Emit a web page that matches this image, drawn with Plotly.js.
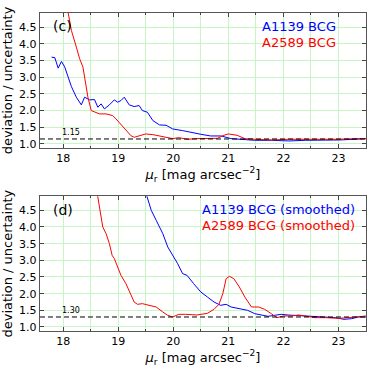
<!DOCTYPE html>
<html><head><meta charset="utf-8">
<script src="https://cdn.plot.ly/plotly-3.0.1.min.js"></script>
<style>html,body{margin:0;padding:0;background:#fff}#chart{width:374px;height:374px}</style>
</head><body><div id="chart"></div>
<script>
// Panel (c)
const cBlueX = [17.79,17.85,17.91,17.97,18.03,18.09,18.15,18.24,18.33,18.39,18.48,18.57,18.63,18.69,18.75,18.84,18.93,18.99,19.05,19.11,19.2,19.29,19.38,19.44,19.53,19.63,19.75,19.87,19.99,20.17,20.25,20.34,20.5,20.68,20.87,21.05,21.3,21.48,21.78,22.1,22.4,22.7,23.0,23.3,23.5];
const cBlueY = [3.6,3.58,3.27,3.47,3.3,3.0,2.72,2.4,2.17,2.4,2.32,2.33,2.1,2.2,2.05,2.17,2.32,2.25,2.3,2.4,2.17,2.12,2.15,2.0,1.95,1.7,1.57,1.56,1.45,1.4,1.37,1.33,1.29,1.24,1.24,1.16,1.12,1.11,1.11,1.09,1.11,1.11,1.12,1.14,1.16];
const cRedX = [18.05,18.15,18.24,18.3,18.36,18.41,18.45,18.51,18.57,18.66,18.78,18.9,18.96,19.05,19.14,19.23,19.29,19.38,19.5,19.63,19.75,19.87,19.99,20.1,20.25,20.43,20.62,20.8,20.92,21.0,21.16,21.3,21.48,21.78,22.1,22.4,22.7,23.0,23.3,23.5];
const cRedY = [5.3,4.4,3.9,3.55,3.3,2.8,2.4,2.0,1.95,1.9,1.9,1.85,1.75,1.58,1.4,1.25,1.2,1.25,1.3,1.28,1.24,1.22,1.16,1.19,1.14,1.16,1.16,1.17,1.26,1.3,1.26,1.16,1.14,1.12,1.14,1.14,1.12,1.14,1.16,1.16];
// Panel (d)
const dBlueX = [19.45,19.52,19.6,19.69,19.81,19.9,19.99,20.08,20.17,20.25,20.37,20.5,20.62,20.74,20.86,20.96,21.05,21.2,21.35,21.48,21.6,21.72,21.84,21.96,22.08,22.28,22.46,22.7,22.94,23.1,23.24,23.36,23.5];
const dBlueY = [5.3,4.92,4.5,4.2,3.8,3.4,3.15,2.9,2.6,2.55,2.3,2.05,1.9,1.75,1.65,1.68,1.6,1.55,1.5,1.4,1.35,1.32,1.35,1.38,1.36,1.34,1.31,1.3,1.28,1.23,1.25,1.3,1.3];
const dRedX = [18.6,18.67,18.72,18.78,18.84,18.89,18.93,18.99,19.05,19.14,19.23,19.29,19.35,19.44,19.56,19.69,19.81,19.9,19.99,20.1,20.22,20.43,20.62,20.74,20.83,20.9,20.96,21.02,21.1,21.2,21.3,21.42,21.55,21.66,21.78,21.88,22.0,22.15,22.28,22.4,22.58,22.77,23.0,23.18,23.36,23.5];
const dRedY = [5.2,4.5,4.0,3.8,3.5,3.15,3.05,2.8,2.55,2.3,2.0,1.75,1.68,1.7,1.65,1.6,1.45,1.35,1.3,1.38,1.38,1.36,1.41,1.53,1.68,2.0,2.45,2.52,2.45,2.2,1.9,1.6,1.6,1.53,1.4,1.28,1.33,1.33,1.36,1.33,1.28,1.28,1.26,1.28,1.32,1.33];
const thresholds = [1.15, 1.30];
const thresholdLabels = ['1.15', '1.30'];
const xRange = [17.58, 23.5];

const font = 'DejaVu Sans, sans-serif';
const traces = [
  {x:cBlueX,y:cBlueY,xaxis:'x',yaxis:'y',mode:'lines',line:{color:'#0000ff',width:1}},
  {x:cRedX,y:cRedY,xaxis:'x',yaxis:'y',mode:'lines',line:{color:'#ff0000',width:1}},
  {x:xRange,y:[thresholds[0],thresholds[0]],xaxis:'x',yaxis:'y',mode:'lines',line:{color:'#000',width:1,dash:'5px,3px'}},
  {x:dBlueX,y:dBlueY,xaxis:'x2',yaxis:'y2',mode:'lines',line:{color:'#0000ff',width:1}},
  {x:dRedX,y:dRedY,xaxis:'x2',yaxis:'y2',mode:'lines',line:{color:'#ff0000',width:1}},
  {x:xRange,y:[thresholds[1],thresholds[1]],xaxis:'x2',yaxis:'y2',mode:'lines',line:{color:'#000',width:1,dash:'5px,3px'}}
];
const xax = (anchor) => ({
  domain:[0,1], anchor:anchor, range:xRange, tick0:18, dtick:1,
  ticks:'inside', ticklen:4, tickcolor:'#444', showline:true, linecolor:'#555', linewidth:1.2, mirror:'ticks',
  showgrid:true, gridcolor:'#c6f5c6', gridwidth:1, zeroline:false,
  minor:{dtick:0.5, tick0:18, showgrid:true, gridcolor:'#c6f5c6', gridwidth:1, ticks:'inside', ticklen:2, tickcolor:'#444'},
  tickfont:{family:font,size:11,color:'#000'},
  title:{text:'<i>μ</i><sub>r</sub> [mag arcsec<sup>−2</sup>]', font:{family:font,size:13,color:'#000'}, standoff:4}
});
const yax = (anchor, dom) => ({
  domain:dom, anchor:anchor, range:[0.88,4.92], dtick:0.5, tick0:1, tickformat:'.1f',
  ticks:'inside', ticklen:4, tickcolor:'#444', showline:true, linecolor:'#555', linewidth:1.2, mirror:'ticks',
  showgrid:true, gridcolor:'#c6f5c6', gridwidth:1, zeroline:false,
  tickfont:{family:font,size:11,color:'#000'},
  title:{text:'deviation / uncertainty', font:{family:font,size:13,color:'#000'}, standoff:3}
});
const ann = (xr,yr,x,y,text,color,size,xanchor,yanchor) => ({xref:xr,yref:yr,x:x,y:y,text:text,showarrow:false,font:{family:font,size:size,color:color},xanchor:xanchor,yanchor:yanchor});
const layout = {
  width:374, height:374, margin:{l:40,r:8,t:13,b:43},
  paper_bgcolor:'#fff', plot_bgcolor:'#fff', showlegend:false,
  xaxis:xax('y'), yaxis:yax('x',[0.5755,1]),
  xaxis2:xax('y2'), yaxis2:yax('x2',[0,0.4236]),
  annotations:[
    ann('x domain','y domain',0.035,0.9,'(c)','#000',14,'left','middle'),
    ann('x2 domain','y2 domain',0.035,0.9,'(d)','#000',14,'left','middle'),
    ann('x domain','y domain',0.915,0.9,'A1139 BCG','#0000ff',13,'right','middle'),
    ann('x domain','y domain',0.915,0.78,'A2589 BCG','#ff0000',13,'right','middle'),
    ann('x2 domain','y2 domain',0.973,0.9,'A1139 BCG (smoothed)','#0000ff',13,'right','middle'),
    ann('x2 domain','y2 domain',0.973,0.78,'A2589 BCG (smoothed)','#ff0000',13,'right','middle'),
    ann('x','y',17.95,thresholds[0],thresholdLabels[0],'#000',8,'left','bottom'),
    ann('x2','y2',17.95,thresholds[1],thresholdLabels[1],'#000',8,'left','bottom')
  ]
};
Plotly.newPlot('chart', traces, layout, {staticPlot:true, displayModeBar:false});
</script></body></html>
